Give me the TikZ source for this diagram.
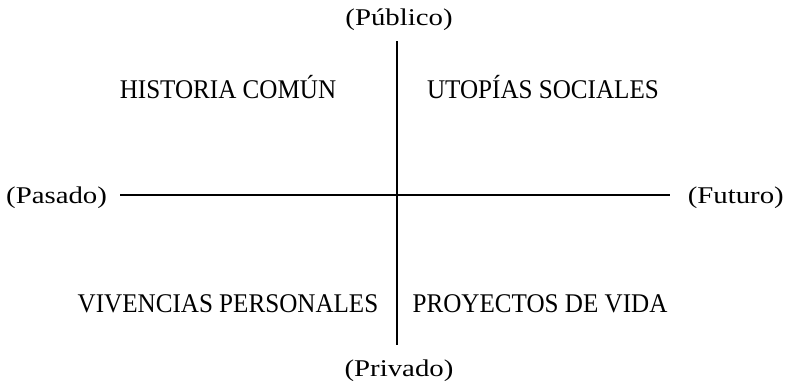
\documentclass[tikz,border=0pt]{standalone}
\usepackage{fontspec}
\newfontfamily\capsfont{Liberation Serif}[FakeStretch=0.93]
\newfontfamily\parfont{Liberation Serif}[FakeStretch=1.2]
\begin{document}
\begin{tikzpicture}[x=1pt,y=-1pt,
  quad/.style={inner sep=0pt,anchor=base,font=\capsfont\fontsize{27}{30}\selectfont},
  par/.style={inner sep=0pt,anchor=base,font=\parfont\fontsize{24}{27}\selectfont},
  axis/.style={line width=1.1pt,black}]
\useasboundingbox (0,0) rectangle (786,384);
\node[par] (pub) at (399,25) {(Público)};
\node[par] (priv) at (399,376) {(Privado)};
\node[par,anchor=base west] (pas) at (6,203) {(Pasado)};
\node[par,anchor=base east] (fut) at (784,203) {(Futuro)};
\coordinate (vt) at (397,41);
\coordinate (vb) at (397,345);
\coordinate (hl) at (120,195);
\coordinate (hr) at (670,195);
\draw[axis] (vt) -- (vb);
\draw[axis] (hl) -- (hr);
\node[quad] (hc) at (228,98) {HISTORIA COMÚN};
\node[quad] (us) at (543,98) {UTOPÍAS SOCIALES};
\node[quad] (vp) at (228,312) {VIVENCIAS PERSONALES};
\node[quad] (pv) at (540,312) {PROYECTOS DE VIDA};
\end{tikzpicture}
\end{document}
